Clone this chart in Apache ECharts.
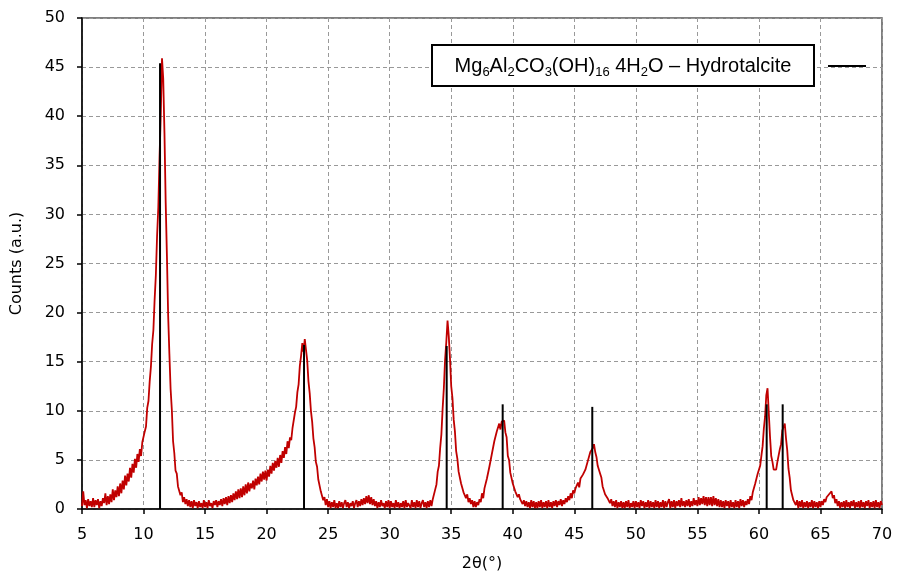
<!DOCTYPE html>
<html>
<head>
<meta charset="utf-8">
<script src="https://cdn.jsdelivr.net/npm/echarts@6/dist/echarts.min.js"></script>
<style>html,body{margin:0;padding:0;background:#fff}#c{width:900px;height:577px}</style>
</head>
<body>
<div id="c"></div>
<script>
// 2θ sampling of the measured pattern
const twoThetaStart = 5.0;
const twoThetaStep = 0.1;
// measured counts (a.u.), one row per degree starting at 5°
const counts = [
  0.3,1.8,0.4,0.9,0.1,1.0,0.3,0.8,0.2,1.1,
  0.2,0.9,0.4,1.0,0.1,0.8,0.3,1.1,0.6,1.6,
  0.4,1.3,0.5,1.5,0.7,2.0,0.9,1.9,1.2,2.3,
  1.3,2.6,1.6,2.9,2.0,3.4,2.4,3.6,2.8,4.2,
  3.2,4.6,3.7,5.1,4.2,5.6,4.8,6.1,5.4,6.8,
  6.6,7.9,8.4,10.3,11.0,13.0,14.5,16.8,18.2,21.3,
  23.8,27.8,30.7,35.8,40.2,45.9,43.8,38.3,31.2,25.8,
  19.7,15.8,12.2,10.1,6.9,5.7,3.9,3.6,2.3,2.5,
  1.4,1.7,0.7,1.2,0.5,1.0,0.3,0.9,0.2,0.8,
  0.1,0.9,0.3,0.7,0.1,0.8,0.2,0.6,0.1,0.9,
  0.2,0.7,0.1,0.9,0.3,0.6,0.1,0.8,0.4,0.9,
  0.2,0.8,0.4,1.0,0.3,1.1,0.5,1.2,0.4,1.3,
  0.6,1.4,0.7,1.6,0.9,1.8,1.0,2.0,1.1,2.1,
  1.2,2.3,1.4,2.5,1.6,2.7,1.8,2.6,2.1,2.9,
  2.0,3.1,2.4,3.3,2.5,3.6,2.8,3.8,3.0,3.9,
  2.9,4.0,3.3,4.4,3.6,4.7,3.9,4.9,4.2,5.2,
  4.3,5.5,4.7,5.9,5.2,6.3,5.6,6.9,6.2,7.3,
  7.0,8.2,8.4,9.8,10.4,11.9,12.7,14.6,15.6,16.9,
  16.0,17.3,16.2,15.1,13.0,11.8,10.0,8.9,7.2,6.3,
  4.8,4.3,3.0,2.9,1.8,1.8,0.9,1.2,0.4,1.0,
  0.2,0.8,0.1,0.7,0.2,0.9,0.1,0.6,0.1,0.8,
  0.2,0.7,0.1,0.6,0.9,0.2,0.7,0.1,0.6,0.3,
  0.8,0.1,0.6,0.9,0.2,0.8,0.3,1.0,0.4,1.1,
  0.5,1.3,0.6,1.4,0.5,1.2,0.4,1.0,0.3,0.8,
  0.1,0.7,0.2,0.9,0.3,0.6,0.1,0.8,0.2,0.9,
  0.1,0.8,0.2,0.6,0.1,0.9,0.2,0.7,0.1,0.6,
  0.2,0.8,0.1,0.9,0.2,0.6,0.8,0.1,0.9,0.2,
  0.7,0.1,0.9,0.2,0.8,0.1,0.6,0.9,0.2,0.7,
  0.1,0.8,0.2,0.9,0.3,1.0,1.1,2.0,2.5,3.8,
  4.4,6.2,7.6,10.2,12.3,15.2,17.0,19.2,17.6,15.3,
  12.5,11.3,9.1,7.9,5.9,5.1,3.8,3.6,2.6,2.5,
  1.7,1.9,1.1,1.5,0.7,1.1,0.5,0.9,0.2,0.8,
  0.2,0.7,0.4,1.0,0.7,1.6,1.1,2.1,2.1,3.1,
  2.9,4.3,4.4,5.6,5.6,6.9,7.0,7.9,8.0,8.7,
  8.1,8.9,8.8,9.0,7.8,7.3,5.4,5.0,3.7,3.6,
  2.6,2.7,1.8,1.9,1.2,1.5,1.0,1.2,0.5,0.9,
  0.3,0.8,0.2,0.7,0.1,0.9,0.2,0.8,0.1,0.7,
  0.1,0.8,0.2,0.9,0.1,0.7,0.2,0.8,0.1,0.9,
  0.2,0.7,0.1,0.8,0.3,0.9,0.2,0.8,0.4,1.0,
  0.3,0.9,0.5,1.1,0.7,1.3,0.9,1.6,1.1,1.9,
  1.6,2.1,1.9,2.7,2.2,3.1,2.9,3.5,3.5,4.0,
  3.9,4.9,4.7,5.8,5.9,6.2,6.6,5.8,5.3,4.4,
  4.4,3.6,3.2,2.3,2.5,1.5,1.7,1.1,1.2,0.6,
  1.0,0.3,0.8,0.2,0.9,0.1,0.7,0.2,0.8,0.1,
  0.7,0.1,0.8,0.2,0.9,0.1,0.6,0.2,0.8,0.1,
  0.8,0.2,0.7,0.1,0.9,0.3,0.8,0.1,0.7,0.2,
  0.9,0.1,0.8,0.2,0.7,0.1,0.9,0.2,0.8,0.1,
  0.7,0.2,0.9,0.1,0.8,0.2,0.7,1.0,0.1,0.8,
  0.2,0.9,0.1,0.8,0.3,0.9,0.2,1.1,0.3,0.8,
  0.2,0.9,0.3,1.0,0.2,0.8,0.3,1.1,0.4,0.9,
  0.3,1.2,0.4,1.1,0.5,1.3,0.4,1.2,0.3,1.2,
  0.4,1.2,0.3,1.3,0.4,1.1,0.3,1.0,0.2,0.9,
  0.2,0.8,0.1,0.9,0.3,0.8,0.1,0.9,0.2,0.7,
  0.1,0.9,0.2,0.8,0.1,1.0,0.3,0.9,0.2,0.8,
  0.4,1.0,0.5,1.3,0.9,1.7,1.6,2.6,2.6,3.6,
  3.6,4.4,5.4,6.4,8.2,9.4,11.6,12.3,9.8,7.4,
  5.4,4.8,4.0,4.1,4.0,4.8,5.0,6.1,6.6,8.0,
  8.1,8.7,7.2,6.0,4.1,3.2,1.9,1.8,0.9,1.0,
  0.4,0.9,0.1,0.8,0.2,0.9,0.1,0.7,0.2,0.8,
  0.1,0.7,0.2,0.9,0.1,0.8,0.2,0.7,0.1,0.8,
  0.2,0.8,0.4,1.0,0.7,1.2,1.0,1.5,1.3,1.8,
  1.1,1.4,0.6,1.0,0.3,0.8,0.1,0.7,0.2,0.8,
  0.1,0.9,0.2,0.7,0.1,0.8,0.3,0.9,0.1,0.7,
  0.2,0.8,0.1,0.9,0.2,0.7,0.1,0.8,0.3,0.9,
  0.1,0.7,0.2,0.8,0.1,0.9,0.2,0.7,0.1,0.8,
  0.4
];
// reference pattern (hydrotalcite) stick positions and heights
const refPositions = [11.34, 23.04, 34.63, 39.18, 46.46, 60.63, 61.93];
const refHeights   = [45.4, 16.7, 16.6, 10.66, 10.4, 10.66, 10.66];
const xTicks = [5,10,15,20,25,30,35,40,45,50,55,60,65,70];
const yTicks = [0,5,10,15,20,25,30,35,40,45,50];

const measured = counts.map((c, i) => [+(twoThetaStart + i * twoThetaStep).toFixed(2), c]);
const sticks = refPositions.map((p, i) => [p, refHeights[i]]);

const chart = echarts.init(document.getElementById('c'), null, {renderer: 'canvas'});
const axisFont = 'DejaVu Sans';
chart.setOption({
  animation: false,
  backgroundColor: '#fff',
  grid: {left: 82, right: 18, top: 18, bottom: 65, show: true, borderColor: '#555', borderWidth: 1.5},
  xAxis: {
    type: 'value', min: xTicks[0], max: xTicks[xTicks.length-1], interval: 5,
    name: '2θ(°)', nameLocation: 'middle', nameGap: 47,
    nameTextStyle: {fontFamily: axisFont, fontSize: 16, color: '#000'},
    axisLine: {show: true, onZero: false, lineStyle: {color: '#000', width: 1.5}},
    axisTick: {show: true, inside: false, length: 5, lineStyle: {color: '#000', width: 1.5}},
    axisLabel: {fontFamily: axisFont, fontSize: 16, color: '#000', margin: 18},
    splitLine: {show: true, lineStyle: {color: '#999', type: [4, 3], width: 1}}
  },
  yAxis: {
    type: 'value', min: yTicks[0], max: yTicks[yTicks.length-1], interval: 5,
    name: 'Counts (a.u.)', nameLocation: 'middle', nameGap: 57,
    nameTextStyle: {fontFamily: axisFont, fontSize: 16, color: '#000'},
    axisLine: {show: true, lineStyle: {color: '#000', width: 1.5}},
    axisTick: {show: true, inside: false, length: 5, lineStyle: {color: '#000', width: 1.5}},
    axisLabel: {fontFamily: axisFont, fontSize: 16, color: '#000', margin: 17},
    splitLine: {show: true, lineStyle: {color: '#999', type: [4, 3], width: 1}}
  },
  series: [
    {
      type: 'line', data: measured, showSymbol: false, symbol: 'none',
      lineStyle: {color: '#C00000', width: 1.8}, z: 3
    },
    {
      type: 'custom', data: sticks, z: 4,
      renderItem: function (params, api) {
        const top = api.coord([api.value(0), api.value(1)]);
        const bot = api.coord([api.value(0), 0]);
        return {type: 'line', shape: {x1: top[0], y1: top[1], x2: bot[0], y2: bot[1]},
                style: {stroke: '#000', lineWidth: 2}};
      }
    }
  ],
  graphic: [
    {type: 'rect', shape: {x: 432, y: 45, width: 382, height: 41}, style: {fill: '#fff', stroke: '#000', lineWidth: 2}, z: 10},
    {type: 'text', x: 623, y: 66, z: 11, style: {
      text: '{n|Mg}{s|6}{n|Al}{s|2}{n|CO}{s|3}{n|(OH)}{s|16}{n| 4H}{s|2}{n|O – Hydrotalcite}',
      align: 'center', verticalAlign: 'middle',
      rich: {
        n: {fontFamily: 'Liberation Sans', fontSize: 20, color: '#000', lineHeight: 26, verticalAlign: 'middle'},
        s: {fontFamily: 'Liberation Sans', fontSize: 13, color: '#000', verticalAlign: 'bottom'}
      }
    }},
    {type: 'line', shape: {x1: 828, y1: 66, x2: 866, y2: 66}, style: {stroke: '#000', lineWidth: 2}, z: 11}
  ]
});
</script>
</body>
</html>
